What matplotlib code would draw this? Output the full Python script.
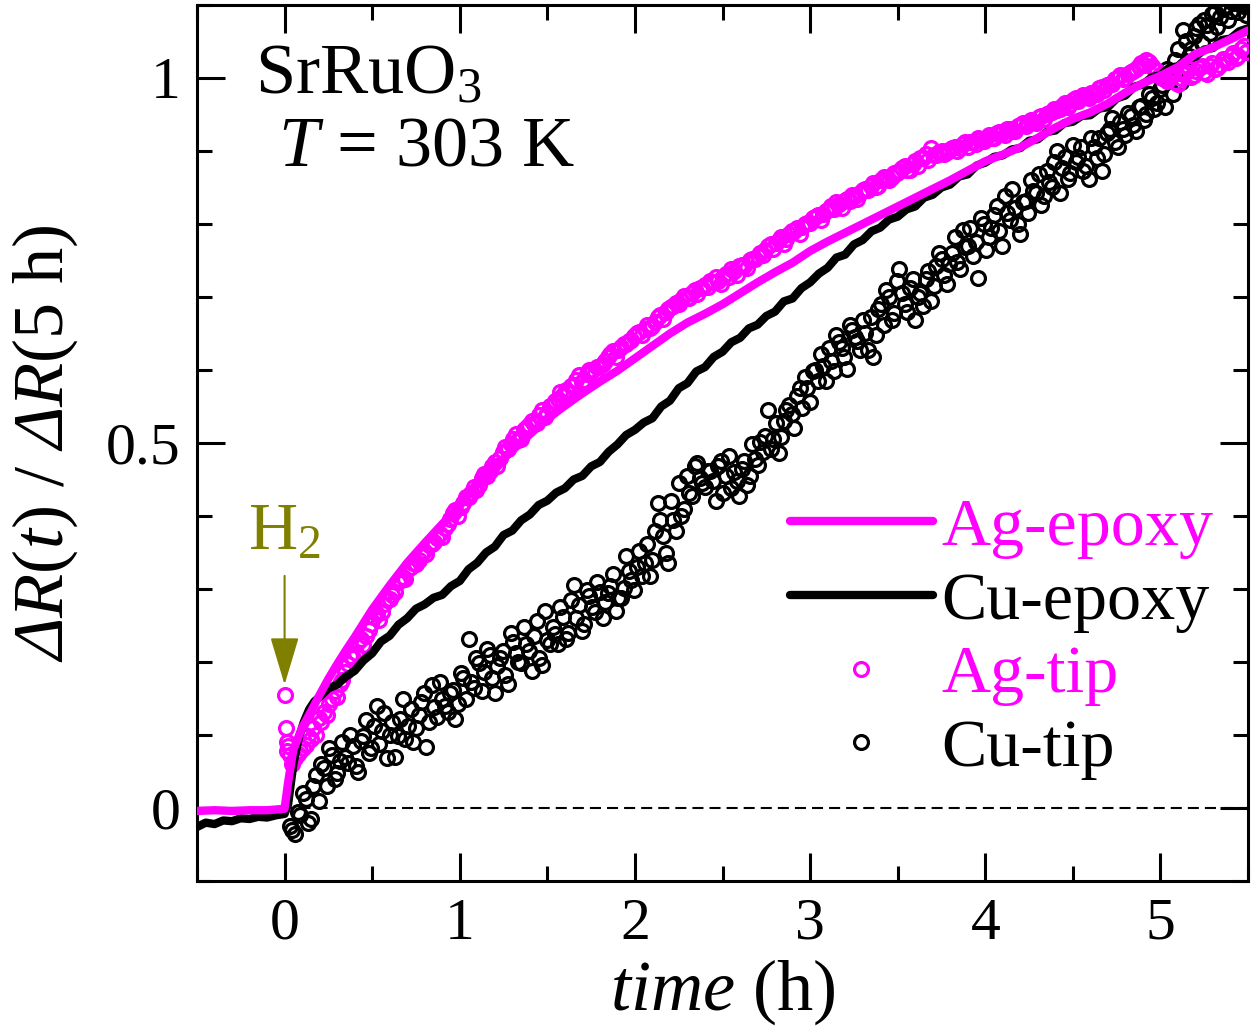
import numpy as np
import matplotlib
matplotlib.use("Agg")
import matplotlib.pyplot as plt
from matplotlib.ticker import MultipleLocator, FixedLocator, FixedFormatter

# math "rm" is italic so that the capital Delta comes out slanted;
# upright glyphs inside math use \mathsf (mapped to the upright face)
plt.rcParams['font.family'] = ['Liberation Serif', 'DejaVu Serif']
plt.rcParams['mathtext.fontset'] = 'custom'
plt.rcParams['mathtext.rm'] = 'Liberation Serif:italic'
plt.rcParams['mathtext.it'] = 'Liberation Serif:italic'
plt.rcParams['mathtext.sf'] = 'Liberation Serif'
plt.rcParams['mathtext.bf'] = 'Liberation Serif:bold'

MAG = '#ff00ff'
OLIVE = '#808000'

# ---- Ag-epoxy (magenta line) ----
ag_ep_t = np.concatenate([
    [-0.5, -0.4, -0.3, -0.2, -0.1, 0.0],
    [0.02, 0.05, 0.10, 0.15, 0.20, 0.25, 0.30, 0.35, 0.40, 0.45],
    np.linspace(0.5, 5.5, 51)])
ag_ep_v = np.array([
    -0.004, -0.003, -0.004, -0.003, -0.003, -0.001,
    0.035, 0.080, 0.110, 0.132, 0.155, 0.177, 0.197, 0.216, 0.234, 0.253,
    0.272, 0.305, 0.336, 0.363, 0.389, 0.414, 0.443, 0.467, 0.490, 0.512,
    0.533, 0.551, 0.568, 0.584, 0.599, 0.616, 0.633, 0.650, 0.665, 0.677,
    0.690, 0.705, 0.720, 0.734, 0.747, 0.763, 0.776, 0.788, 0.800, 0.812,
    0.824, 0.836, 0.848, 0.860, 0.873, 0.886, 0.895, 0.905, 0.918, 0.932,
    0.944, 0.953, 0.965, 0.980, 0.993, 1.003, 1.015, 1.033, 1.042, 1.053,
    1.065])

# ---- Cu-epoxy (black line) ----
cu_ep_main = [
    0.152, 0.164, 0.169, 0.180, 0.188, 0.202, 0.212, 0.228, 0.236, 0.251,
    0.260, 0.273, 0.279, 0.288, 0.292, 0.304, 0.311, 0.327, 0.336, 0.350,
    0.358, 0.374, 0.380, 0.394, 0.402, 0.415, 0.421, 0.432, 0.438, 0.450,
    0.455, 0.468, 0.474, 0.488, 0.498, 0.511, 0.518, 0.528, 0.534, 0.550,
    0.558, 0.575, 0.582, 0.598, 0.604, 0.618, 0.625, 0.638, 0.644, 0.657,
    0.662, 0.674, 0.680, 0.694, 0.698, 0.712, 0.720, 0.732, 0.740, 0.754,
    0.758, 0.772, 0.778, 0.790, 0.795, 0.806, 0.810, 0.820, 0.824, 0.836,
    0.840, 0.850, 0.854, 0.865, 0.868, 0.880, 0.884, 0.892, 0.894, 0.902,
    0.904, 0.914, 0.916, 0.926, 0.928, 0.938, 0.940, 0.948, 0.949, 0.958,
    0.960, 0.972, 0.976, 0.988, 0.991, 1.001, 1.004, 1.014, 1.016, 1.027,
    1.029, 1.039, 1.041, 1.052, 1.054, 1.064, 1.068]
cu_ep_t = np.concatenate([
    np.linspace(-0.5, 0.0, 11),
    [0.02, 0.05, 0.08, 0.11, 0.14, 0.17],
    np.linspace(0.2, 5.5, len(cu_ep_main))])
cu_ep_v = np.array([
    -0.026, -0.020, -0.022, -0.017, -0.018, -0.014, -0.015, -0.012, -0.013, -0.010, -0.008,
    0.005, 0.060, 0.095, 0.118, 0.135, 0.146] + cu_ep_main)

# ---- Ag-tip (magenta open circles) ----
ag_tip_first_t = [0.005, 0.008, 0.012, 0.016, 0.020]
ag_tip_first_v = [0.155, 0.110, 0.090, 0.078, 0.085]
# samples at 0.03, 0.06, ... 5.49 h
ag_tip_a = [
    0.072, 0.068, 0.078, 0.086, 0.094, 0.100, 0.118, 0.128, 0.150, 0.152,
    0.176, 0.197, 0.205, 0.228, 0.224, 0.244, 0.262, 0.258, 0.279, 0.286,
    0.296, 0.312, 0.314, 0.330, 0.334, 0.346, 0.348, 0.362, 0.370, 0.371,
    0.389, 0.404, 0.400, 0.418, 0.426, 0.440, 0.442, 0.458, 0.462, 0.474,
    0.480, 0.494, 0.499, 0.512, 0.505, 0.521, 0.530, 0.527, 0.545, 0.541,
    0.552, 0.560, 0.566, 0.568, 0.580, 0.593, 0.586, 0.600, 0.596, 0.606,
    0.612, 0.622, 0.618, 0.632, 0.636, 0.641, 0.650, 0.648, 0.662, 0.660,
    0.672, 0.670, 0.684, 0.688, 0.690, 0.702, 0.698, 0.710, 0.712, 0.716,
    0.722, 0.728, 0.718, 0.732, 0.738, 0.730, 0.744, 0.740, 0.752, 0.756,
    0.758, 0.770, 0.766, 0.778, 0.772, 0.786, 0.790, 0.786, 0.800, 0.802,
    0.810, 0.806, 0.818, 0.824, 0.830, 0.822, 0.834, 0.840, 0.834, 0.846,
    0.846, 0.856, 0.852, 0.864, 0.860, 0.870, 0.872, 0.880, 0.874, 0.886,
    0.890, 0.896, 0.904, 0.894, 0.900, 0.898, 0.904, 0.900, 0.910, 0.906,
    0.912, 0.918, 0.914, 0.922, 0.918, 0.926, 0.922, 0.930, 0.928, 0.936,
    0.934, 0.942, 0.938, 0.948, 0.950, 0.954, 0.956, 0.962, 0.960, 0.970,
    0.968, 0.976, 0.972, 0.980, 0.986, 0.984, 0.992, 0.998, 1.004, 1.000,
    1.008, 1.012, 1.020, 1.024, 1.016, 1.010, 1.000, 0.996, 1.004, 0.992,
    1.006, 1.012, 1.004, 1.014, 1.008, 1.016, 1.012, 1.018, 1.024, 1.030,
    1.028, 1.040, 1.036]
# samples at 0.045, 0.075, ... 5.475 h
ag_tip_b = [
    0.060, 0.074, 0.082, 0.098, 0.110, 0.124, 0.132, 0.142, 0.160, 0.170,
    0.186, 0.208, 0.212, 0.232, 0.236, 0.252, 0.266, 0.268, 0.285, 0.292,
    0.310, 0.316, 0.328, 0.336, 0.340, 0.352, 0.360, 0.364, 0.376, 0.384,
    0.396, 0.408, 0.412, 0.426, 0.432, 0.436, 0.452, 0.455, 0.468, 0.468,
    0.488, 0.492, 0.506, 0.504, 0.518, 0.524, 0.526, 0.538, 0.536, 0.550,
    0.558, 0.570, 0.572, 0.578, 0.586, 0.584, 0.595, 0.598, 0.604, 0.608,
    0.618, 0.626, 0.628, 0.636, 0.640, 0.646, 0.652, 0.656, 0.658, 0.666,
    0.676, 0.680, 0.686, 0.692, 0.696, 0.698, 0.706, 0.704, 0.712, 0.714,
    0.720, 0.722, 0.728, 0.728, 0.736, 0.742, 0.742, 0.750, 0.752, 0.760,
    0.764, 0.772, 0.774, 0.782, 0.780, 0.790, 0.794, 0.796, 0.802, 0.808,
    0.812, 0.814, 0.820, 0.820, 0.828, 0.832, 0.832, 0.838, 0.842, 0.848,
    0.852, 0.850, 0.860, 0.862, 0.864, 0.870, 0.876, 0.874, 0.882, 0.880,
    0.890, 0.888, 0.894, 0.898, 0.896, 0.902, 0.906, 0.904, 0.912, 0.912,
    0.910, 0.916, 0.918, 0.918, 0.924, 0.924, 0.930, 0.928, 0.934, 0.938,
    0.938, 0.940, 0.946, 0.944, 0.952, 0.958, 0.958, 0.966, 0.964, 0.972,
    0.972, 0.974, 0.980, 0.978, 0.988, 0.990, 0.992, 1.000, 0.998, 1.006,
    1.010, 1.016, 1.018, 1.022, 1.012, 1.004, 0.998, 1.002, 0.994, 1.000,
    1.008, 1.002, 1.010, 1.016, 1.006, 1.020, 1.014, 1.026, 1.022, 1.034,
    1.030, 1.044]
ag_tip_t = np.concatenate([ag_tip_first_t,
                           np.linspace(0.03, 5.49, len(ag_tip_a)),
                           np.linspace(0.045, 5.475, len(ag_tip_b))])
ag_tip_v = np.array(ag_tip_first_v + ag_tip_a + ag_tip_b)

# ---- Cu-tip (black open circles) ----
# samples at 0.03, 0.06, ... 5.49 h
cu_tip_a = [
    -0.025, -0.035, -0.010, 0.012, -0.015, 0.045, 0.060, 0.030, 0.072, 0.048,
    0.090, 0.062, 0.085, 0.050, 0.098, 0.075, 0.112, 0.088, 0.130, 0.100,
    0.070, 0.122, 0.095, 0.135, 0.110, 0.145, 0.084, 0.168, 0.125, 0.150,
    0.132, 0.162, 0.142, 0.178, 0.232, 0.165, 0.198, 0.186, 0.210, 0.158,
    0.205, 0.182, 0.240, 0.212, 0.198, 0.225, 0.188, 0.256, 0.196, 0.230,
    0.248, 0.225, 0.262, 0.240, 0.305, 0.278, 0.252, 0.290, 0.268, 0.296,
    0.282, 0.304, 0.270, 0.288, 0.345, 0.312, 0.330, 0.318, 0.362, 0.340,
    0.418, 0.372, 0.336, 0.395, 0.445, 0.410, 0.432, 0.468, 0.452, 0.440,
    0.462, 0.420, 0.476, 0.455, 0.438, 0.448, 0.465, 0.442, 0.498, 0.470,
    0.488, 0.545, 0.505, 0.486, 0.530, 0.552, 0.520, 0.575, 0.590, 0.556,
    0.600, 0.622, 0.585, 0.612, 0.648, 0.630, 0.602, 0.655, 0.640, 0.668,
    0.628, 0.618, 0.684, 0.662, 0.700, 0.678, 0.738, 0.690, 0.712, 0.668,
    0.706, 0.724, 0.695, 0.742, 0.752, 0.718, 0.760, 0.748, 0.792, 0.770,
    0.756, 0.726, 0.800, 0.782, 0.812, 0.790, 0.838, 0.806, 0.822, 0.786,
    0.832, 0.860, 0.842, 0.826, 0.872, 0.850, 0.900, 0.876, 0.862, 0.908,
    0.892, 0.872, 0.862, 0.905, 0.918, 0.896, 0.930, 0.912, 0.940, 0.922,
    0.948, 0.928, 0.962, 0.950, 0.972, 0.966, 0.990, 1.012, 0.978, 1.040,
    1.066, 1.030, 1.058, 1.074, 1.080, 1.062, 1.090, 1.084, 1.098, 1.092,
    1.104, 1.100, 1.086]
# samples at 0.045, 0.075, ... 5.475 h
cu_tip_b = [
    -0.030, -0.005, 0.020, -0.020, 0.030, 0.010, 0.055, 0.082, 0.040, 0.065,
    0.070, 0.100, 0.058, 0.092, 0.120, 0.082, 0.140, 0.105, 0.068, 0.118,
    0.098, 0.150, 0.112, 0.090, 0.128, 0.158, 0.118, 0.138, 0.172, 0.140,
    0.158, 0.122, 0.185, 0.150, 0.172, 0.205, 0.160, 0.218, 0.178, 0.195,
    0.215, 0.170, 0.228, 0.200, 0.248, 0.215, 0.236, 0.205, 0.270, 0.225,
    0.238, 0.275, 0.232, 0.285, 0.260, 0.242, 0.298, 0.275, 0.310, 0.260,
    0.295, 0.320, 0.288, 0.302, 0.325, 0.298, 0.352, 0.335, 0.318, 0.380,
    0.395, 0.350, 0.420, 0.380, 0.400, 0.455, 0.428, 0.472, 0.445, 0.462,
    0.448, 0.468, 0.432, 0.482, 0.460, 0.428, 0.475, 0.455, 0.478, 0.502,
    0.510, 0.492, 0.528, 0.508, 0.545, 0.540, 0.565, 0.548, 0.575, 0.598,
    0.585, 0.605, 0.630, 0.598, 0.638, 0.618, 0.662, 0.645, 0.628, 0.650,
    0.672, 0.648, 0.690, 0.710, 0.668, 0.722, 0.705, 0.680, 0.725, 0.700,
    0.688, 0.735, 0.715, 0.760, 0.730, 0.745, 0.782, 0.738, 0.768, 0.795,
    0.775, 0.808, 0.765, 0.795, 0.825, 0.770, 0.815, 0.848, 0.800, 0.830,
    0.815, 0.845, 0.868, 0.838, 0.858, 0.885, 0.842, 0.892, 0.870, 0.885,
    0.905, 0.880, 0.918, 0.890, 0.872, 0.925, 0.945, 0.905, 0.930, 0.952,
    0.935, 0.960, 0.942, 0.978, 0.958, 0.985, 0.960, 1.002, 1.025, 0.995,
    1.050, 1.040, 1.068, 1.048, 1.072, 1.088, 1.070, 1.095, 1.080, 1.102,
    1.090, 1.098]
cu_tip_t = np.concatenate([np.linspace(0.03, 5.49, len(cu_tip_a)),
                           np.linspace(0.045, 5.475, len(cu_tip_b))])
cu_tip_v = np.array(cu_tip_a + cu_tip_b)

xticks = [0, 1, 2, 3, 4, 5]
yticks = [0, 0.5, 1]
ytick_labels = ['0', '0.5', '1']

fig = plt.figure(figsize=(12.58, 10.33), dpi=100)
ax = fig.add_axes([0.1566, 0.1471, 0.8355, 0.8481])

ax.axhline(0, color='k', lw=1.5, ls=(0, (5.3, 2.9)), zorder=1)
h_cut, = ax.plot(cu_tip_t, cu_tip_v, 'o', ms=10, mfc='none', mec='k', mew=2.3,
                 label='Cu-tip', zorder=2)
h_agt, = ax.plot(ag_tip_t, ag_tip_v, 'o', ms=10, mfc='none', mec=MAG, mew=2.3,
                 label='Ag-tip', zorder=3)
h_cue, = ax.plot(cu_ep_t, cu_ep_v, color='k', lw=6, label='Cu-epoxy', zorder=4,
                 solid_capstyle='round', solid_joinstyle='round')
h_age, = ax.plot(ag_ep_t, ag_ep_v, color=MAG, lw=6, label='Ag-epoxy', zorder=5,
                 solid_capstyle='round', solid_joinstyle='round')

ax.set_xlim(-0.5, 5.5)
ax.set_ylim(-0.1, 1.1)
ax.xaxis.set_major_locator(FixedLocator(xticks))
ax.xaxis.set_minor_locator(MultipleLocator(0.5))
ax.yaxis.set_major_locator(FixedLocator(yticks))
ax.yaxis.set_major_formatter(FixedFormatter(ytick_labels))
ax.yaxis.set_minor_locator(MultipleLocator(0.1))
ax.tick_params(which='both', direction='in', top=True, right=True, width=2.2,
               labelsize=43, pad=12)
ax.tick_params(which='major', length=20)
ax.tick_params(which='minor', length=11)
for s in ax.spines.values():
    s.set_linewidth(2.2)

ax.set_xlabel(r'$time$ (h)', fontsize=52, labelpad=4)
ax.set_ylabel(r'$\Delta R$($t$) / $\Delta R$(5 h)', fontsize=52)
ax.yaxis.set_label_coords(-0.111, 0.5)

ax.text(-0.171, 0.979, r'SrRuO$_\mathsf{3}$', fontsize=52, va='baseline')
ax.text(-0.04, 0.880, r'$T$ = 303 K', fontsize=52, va='baseline')

ax.annotate('', xy=(0, 0.169), xytext=(0, 0.318),
            arrowprops=dict(arrowstyle='-|>,head_length=1.5,head_width=0.45',
                            mutation_scale=20, color=OLIVE, lw=1.5,
                            shrinkA=0, shrinkB=0))
ax.text(0.0, 0.354, r'H$_\mathsf{2}$', color=OLIVE, fontsize=49, ha='center',
        va='baseline')

leg = ax.legend(handles=[h_age, h_cue, h_agt, h_cut], loc='upper left',
                bbox_to_anchor=(790 / 1258, 1 - 497 / 1033),
                bbox_transform=fig.transFigure, frameon=False, fontsize=49,
                handlelength=2.1, handletextpad=0.12, labelspacing=0.18,
                borderpad=0, borderaxespad=0, numpoints=1)
for txt, c in zip(leg.get_texts(), [MAG, 'k', MAG, 'k']):
    txt.set_color(c)

fig.savefig('out.png', dpi=100)
